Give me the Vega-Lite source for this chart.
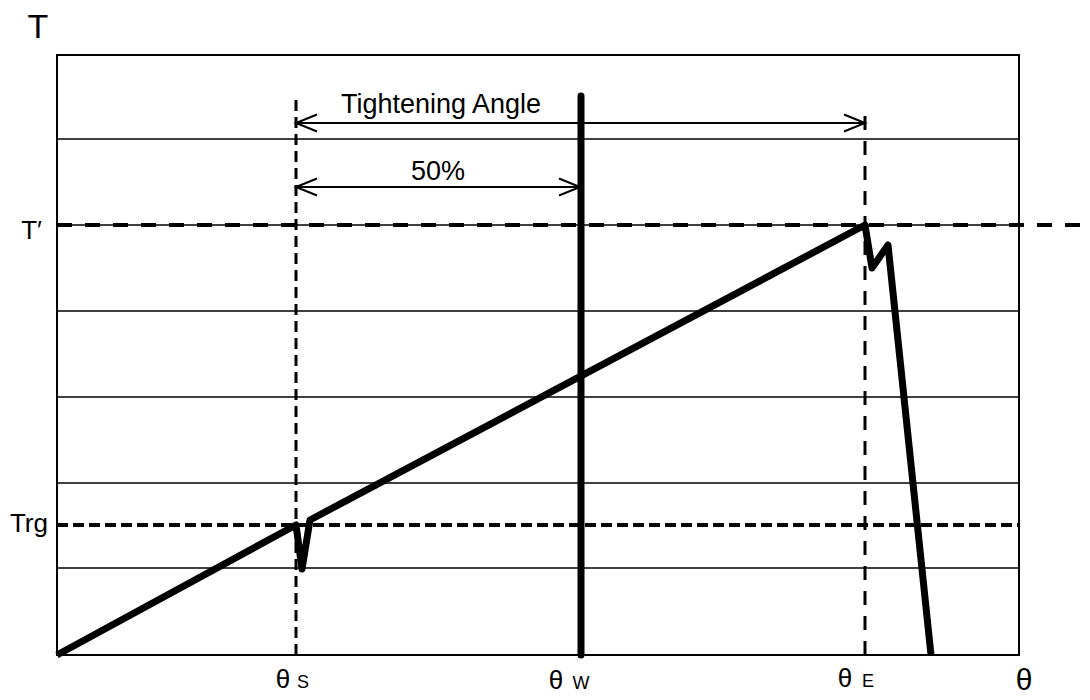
{
  "$schema": "https://vega.github.io/schema/vega-lite/v6.json",
  "width": 962,
  "height": 600,
  "autosize": {"type": "none"},
  "padding": {"left": 57, "top": 55, "right": 71, "bottom": 45},
  "background": "white",
  "config": {"view": {"stroke": "black", "strokeWidth": 2}, "font": "Liberation Sans"},
  "datasets": {
    "grid": [{"y": 87}, {"y": 172}, {"y": 258}, {"y": 344}, {"y": 430}, {"y": 516}],
    "curve": [
      {"o": 1, "x": 57, "y": 0},
      {"o": 2, "x": 296, "y": 130},
      {"o": 3, "x": 302, "y": 86},
      {"o": 4, "x": 310, "y": 135},
      {"o": 5, "x": 865, "y": 430},
      {"o": 6, "x": 872, "y": 387},
      {"o": 7, "x": 888, "y": 410},
      {"o": 8, "x": 931, "y": 0}
    ],
    "arrows": [
      {"y": 532, "x": 296, "x2": 865},
      {"y": 468, "x": 296, "x2": 580}
    ],
    "heads": [
      {"id": "a", "o": 1, "x": 317, "y": 540.5},
      {"id": "a", "o": 2, "x": 296, "y": 532},
      {"id": "a", "o": 3, "x": 317, "y": 523.5},
      {"id": "b", "o": 1, "x": 844, "y": 540.5},
      {"id": "b", "o": 2, "x": 865, "y": 532},
      {"id": "b", "o": 3, "x": 844, "y": 523.5},
      {"id": "c", "o": 1, "x": 317, "y": 476.5},
      {"id": "c", "o": 2, "x": 296, "y": 468},
      {"id": "c", "o": 3, "x": 317, "y": 459.5},
      {"id": "d", "o": 1, "x": 559, "y": 476.5},
      {"id": "d", "o": 2, "x": 580, "y": 468},
      {"id": "d", "o": 3, "x": 559, "y": 459.5}
    ],
    "bigLabels": [
      {"x": 441, "y": 542, "label": "Tightening Angle"},
      {"x": 438, "y": 475, "label": "50%"}
    ],
    "leftLabels": [
      {"x": 42, "y": 416, "label": "T′"},
      {"x": 48, "y": 123, "label": "Trg"}
    ],
    "thetas": [
      {"x": 283, "y": -33, "label": "θ"},
      {"x": 556, "y": -34, "label": "θ"},
      {"x": 845, "y": -32, "label": "θ"}
    ],
    "subs": [
      {"x": 303, "y": -33, "label": "S"},
      {"x": 581, "y": -34, "label": "W"},
      {"x": 868, "y": -32, "label": "E"}
    ]
  },
  "encoding": {
    "x": {"type": "quantitative", "scale": {"domain": [57, 1019], "nice": false, "zero": false}, "axis": null},
    "y": {"type": "quantitative", "scale": {"domain": [0, 600], "nice": false, "zero": false}, "axis": null}
  },
  "layer": [
    {
      "data": {"name": "grid"},
      "mark": {"type": "rule", "color": "black", "strokeWidth": 1.3},
      "encoding": {"y": {"field": "y", "type": "quantitative"}}
    },
    {
      "data": {"values": [{"x": 57, "x2": 1088, "y": 430}]},
      "mark": {"type": "rule", "color": "black", "strokeWidth": 4, "strokeDash": [15, 13], "clip": false},
      "encoding": {"x": {"field": "x", "type": "quantitative"}, "x2": {"field": "x2"}, "y": {"field": "y", "type": "quantitative"}}
    },
    {
      "data": {"values": [{"x": 57, "x2": 1019, "y": 130}]},
      "mark": {"type": "rule", "color": "black", "strokeWidth": 4, "strokeDash": [11, 5]},
      "encoding": {"x": {"field": "x", "type": "quantitative"}, "x2": {"field": "x2"}, "y": {"field": "y", "type": "quantitative"}}
    },
    {
      "data": {"values": [{"x": 296, "y": 0, "y2": 555}]},
      "mark": {"type": "rule", "color": "black", "strokeWidth": 3, "strokeDash": [11, 6]},
      "encoding": {"x": {"field": "x", "type": "quantitative"}, "y": {"field": "y", "type": "quantitative"}, "y2": {"field": "y2"}}
    },
    {
      "data": {"values": [{"x": 865, "y": 0, "y2": 546}]},
      "mark": {"type": "rule", "color": "black", "strokeWidth": 3, "strokeDash": [14, 11]},
      "encoding": {"x": {"field": "x", "type": "quantitative"}, "y": {"field": "y", "type": "quantitative"}, "y2": {"field": "y2"}}
    },
    {
      "data": {"values": [{"x": 581, "y": 0, "y2": 559}]},
      "mark": {"type": "rule", "color": "black", "strokeWidth": 7, "strokeCap": "round"},
      "encoding": {"x": {"field": "x", "type": "quantitative"}, "y": {"field": "y", "type": "quantitative"}, "y2": {"field": "y2"}}
    },
    {
      "data": {"name": "arrows"},
      "mark": {"type": "rule", "color": "black", "strokeWidth": 1.8},
      "encoding": {"x": {"field": "x", "type": "quantitative"}, "x2": {"field": "x2"}, "y": {"field": "y", "type": "quantitative"}}
    },
    {
      "data": {"name": "heads"},
      "mark": {"type": "line", "color": "black", "strokeWidth": 2, "strokeJoin": "miter"},
      "encoding": {"x": {"field": "x", "type": "quantitative"}, "y": {"field": "y", "type": "quantitative"}, "detail": {"field": "id"}, "order": {"field": "o"}}
    },
    {
      "data": {"name": "curve"},
      "mark": {"type": "line", "color": "black", "strokeWidth": 7, "strokeJoin": "round", "strokeCap": "butt"},
      "encoding": {"x": {"field": "x", "type": "quantitative"}, "y": {"field": "y", "type": "quantitative"}, "order": {"field": "o"}}
    },
    {
      "data": {"name": "bigLabels"},
      "mark": {"type": "text", "fontSize": 27, "align": "center", "baseline": "alphabetic", "color": "black", "clip": false},
      "encoding": {"x": {"field": "x", "type": "quantitative"}, "y": {"field": "y", "type": "quantitative"}, "text": {"field": "label"}}
    },
    {
      "data": {"name": "leftLabels"},
      "mark": {"type": "text", "fontSize": 26, "align": "right", "baseline": "alphabetic", "color": "black", "clip": false},
      "encoding": {"x": {"field": "x", "type": "quantitative"}, "y": {"field": "y", "type": "quantitative"}, "text": {"field": "label"}}
    },
    {
      "data": {"values": [{"x": 38, "y": 617, "label": "T"}]},
      "mark": {"type": "text", "fontSize": 34, "align": "center", "baseline": "alphabetic", "color": "black", "clip": false},
      "encoding": {"x": {"field": "x", "type": "quantitative"}, "y": {"field": "y", "type": "quantitative"}, "text": {"field": "label"}}
    },
    {
      "data": {"name": "thetas"},
      "mark": {"type": "text", "fontSize": 26, "align": "center", "baseline": "alphabetic", "color": "black", "clip": false},
      "encoding": {"x": {"field": "x", "type": "quantitative"}, "y": {"field": "y", "type": "quantitative"}, "text": {"field": "label"}}
    },
    {
      "data": {"name": "subs"},
      "mark": {"type": "text", "fontSize": 18, "align": "center", "baseline": "alphabetic", "color": "black", "clip": false},
      "encoding": {"x": {"field": "x", "type": "quantitative"}, "y": {"field": "y", "type": "quantitative"}, "text": {"field": "label"}}
    },
    {
      "data": {"values": [{"x": 1024, "y": -35, "label": "θ"}]},
      "mark": {"type": "text", "fontSize": 30, "align": "center", "baseline": "alphabetic", "color": "black", "clip": false},
      "encoding": {"x": {"field": "x", "type": "quantitative"}, "y": {"field": "y", "type": "quantitative"}, "text": {"field": "label"}}
    }
  ]
}
